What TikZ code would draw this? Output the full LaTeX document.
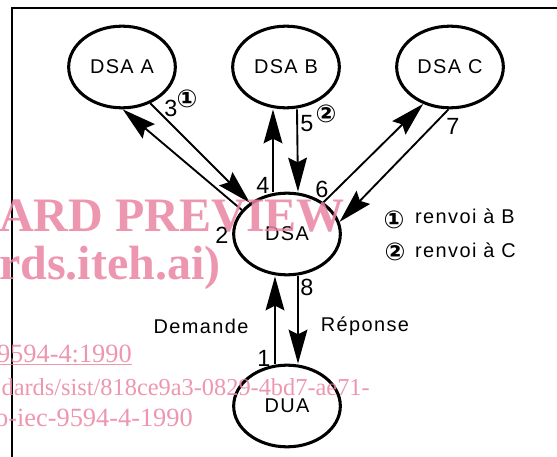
\documentclass[tikz,border=0pt]{standalone}
\usepackage{fontspec}
\setmainfont{Liberation Sans}[LetterSpace=7]
\newfontfamily\circfont{DejaVu Sans}
\newfontfamily\wmfont{Liberation Serif}
\usetikzlibrary{arrows.meta,shapes.geometric,calc}
\definecolor{wmpink}{RGB}{234,132,162}

\begin{document}
\begin{tikzpicture}[x=0.03cm,y=-0.03cm,font=\fontsize{17}{20}\selectfont,
        dsa/.style={draw,ellipse,line width=2.6pt,minimum width=3.2cm,minimum height=2.45cm,inner sep=0pt},
        fleche/.style={line width=1.6pt,-{Stealth[length=29pt,width=16pt,inset=4pt]}},
        num/.style={font=\fontsize{20}{22}\selectfont,inner sep=0pt},
        renvoi/.style={font=\circfont\bfseries\fontsize{21}{21}\selectfont,inner sep=0pt},
        filigrane/.style={text=wmpink,opacity=0.85,inner sep=0pt}]
        \useasboundingbox (0,0) rectangle (557,457);

        % cadre
        \draw[line width=1.8pt] (557,8) -- (12,8) -- (12,457);

        \node[dsa] (dsaa) at (122,67) {DSA A};
        \node[dsa] (dsab) at (286,67) {DSA B};
        \node[dsa] (dsac) at (450,67) {DSA C};
        \node[dsa] (dsa) at (287,234) {DSA};
        \node[dsa] (dua) at (287,406) {DUA};

        \draw[fleche] (dsa.152) -- (dsaa.271);
        \draw[fleche] (dsaa.308) -- (dsa.140);

        \draw[fleche] ($(dsa.north)+(-14,0)$) -- ($(dsab.south)+(-13,0)$);
        \draw[fleche] ($(dsab.south)+(11,0)$) -- ($(dsa.north)+(11,0)$);

        \draw[fleche] (dsa.41) -- (dsac.234);
        \draw[fleche] (dsac.268) -- (dsa.13);

        \draw[fleche] ($(dua.north)+(-12,0)$) -- ($(dsa.south)+(-12,0)$);
        \draw[fleche] ($(dsa.south)+(11,0)$) -- ($(dua.north)+(11,0)$);

        \node[num] (n3) at (171,108) {3};
        \node[renvoi] (r3) at (187,99) {①};
        \node[num] (n5) at (307,124) {5};
        \node[renvoi] (r5) at (326,114) {②};
        \node[num] (n4) at (263,185) {4};
        \node[num] (n6) at (322,189) {6};
        \node[num] (n7) at (453,126) {7};
        \node[num] (n2) at (222,235) {2};
        \node[num] (n8) at (307,287) {8};
        \node[num] (n1) at (264,358) {1};

        \node (dem) at (201,326) {Demande};
        \node (rep) at (365,326) {Réponse};

        \node[renvoi] (lg1) at (394,220) {①};
        \node[anchor=west,inner sep=0pt] (lgb) at (415,216) {renvoi à B};
        \node[renvoi] (lg2) at (395,252) {②};
        \node[anchor=west,inner sep=0pt] (lgc) at (415,250) {renvoi à C};

        % filigrane
        \node[filigrane,anchor=base west,font=\wmfont\bfseries\fontsize{41}{41}\selectfont] (wm1) at (-1,232) {ARD PREVIEW};
        \node[filigrane,anchor=base west,font=\wmfont\bfseries\fontsize{41}{41}\selectfont] (wm2) at (-1,280) {rds.iteh.ai)};
        \node[filigrane,anchor=base east,font=\wmfont\fontsize{22.5}{23}\selectfont] (wm3) at (132,362) {\underline{9594-4:1990}};
        \node[filigrane,anchor=base east,font=\wmfont\fontsize{20.8}{21}\selectfont] (wm4) at (370,395) {dards/sist/818ce9a3-0829-4bd7-ae71-};
        \node[filigrane,anchor=base east,font=\wmfont\fontsize{22.5}{23}\selectfont] (wm5) at (193,426) {o-iec-9594-4-1990};
\end{tikzpicture}
\end{document}
